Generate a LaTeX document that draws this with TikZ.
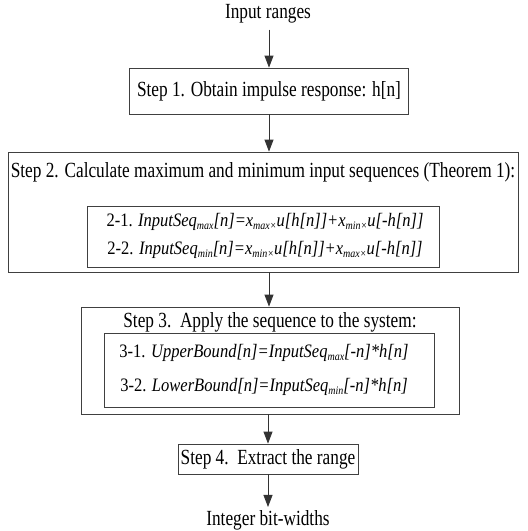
\documentclass[tikz,border=0pt]{standalone}
\usepackage{fontspec}
\setmainfont[FakeStretch=0.8]{Liberation Serif}
\newfontfamily\eqfont[FakeStretch=0.87]{Liberation Serif}
\usetikzlibrary{arrows.meta}

% italic quantity with a small italic subscript
\newcommand{\qsub}[2]{\textit{#1}{\fontsize{11.5}{11.5}\selectfont\raisebox{-2.6pt}{\textit{#2}}}}

\begin{document}
\begin{tikzpicture}[x=1pt,y=-1pt,
  frame/.style={draw=black!75,line width=0.8pt,inner sep=0pt},
  txt/.style={inner sep=0pt,font=\fontsize{21.6}{24}\selectfont},
  eqtxt/.style={inner sep=0pt,font=\eqfont\fontsize{19}{22}\selectfont},
  flow/.style={draw=black!80,line width=0.8pt,-{Triangle[length=12pt,width=9pt]}}]
\useasboundingbox (0,0) rectangle (528,531);

% input label
\node[txt] (in) at (268,14) {Input ranges};

% step 1
\node[frame,minimum width=279pt,minimum height=46pt] (s1) at (269,91) {};
\node[txt] (s1t) at (s1.center) {Step 1. Obtain impulse response: h[n]};

% step 2 with nested formula box
\node[frame,minimum width=510pt,minimum height=120pt] (s2) at (263,212) {};
\node[txt] (s2t) at (263,172) {Step 2. Calculate maximum and minimum input sequences (Theorem 1):};
\node[frame,minimum width=352pt,minimum height=61pt] (s2b) at (263,236.5) {};
\node[eqtxt] (s2a) at (265,222) {2-1. \qsub{InputSeq}{max}\textit{[n]=}\qsub{x}{max×}\textit{u[h[n]]+}\qsub{x}{min×}\textit{u[-h[n]]}};
\node[eqtxt] (s2c) at (265,250) {2-2. \qsub{InputSeq}{min}\textit{[n]=}\qsub{x}{min×}\textit{u[h[n]]+}\qsub{x}{max×}\textit{u[-h[n]]}};

% step 3 with nested formula box
\node[frame,minimum width=378pt,minimum height=107pt] (s3) at (270,360.5) {};
\node[txt] (s3t) at (270,322) {Step 3.\ \ Apply the sequence to the system:};
\node[frame,minimum width=330pt,minimum height=74pt] (s3b) at (269,370) {};
\node[eqtxt] (s3a) at (264,353) {3-1. \textit{UpperBound[n]=}\qsub{InputSeq}{max}\textit{[-n]*h[n]}};
\node[eqtxt] (s3c) at (264,387) {3-2. \textit{LowerBound[n]=}\qsub{InputSeq}{min}\textit{[-n]*h[n]}};

% step 4
\node[frame,minimum width=180pt,minimum height=30pt] (s4) at (268,459) {};
\node[txt] (s4t) at (s4.center) {Step 4.\ \ Extract the range};

% output label
\node[txt] (out) at (268,520) {Integer bit-widths};

% connectors (unitless offsets follow the downward y axis)
\coordinate (a0) at ([yshift=-6pt]in.south -| s1.north);
\coordinate (a5) at ([yshift=3pt]out.north -| s4.south);
\draw[flow] (a0) -- (s1.north);
\draw[flow] (s1.south) -- (s1.south |- s2.north);
\draw[flow] (s1.south |- s2.south) -- (s1.south |- s3.north);
\draw[flow] (s4.north |- s3.south) -- (s4.north);
\draw[flow] (s4.south) -- (a5);
\end{tikzpicture}
\end{document}
